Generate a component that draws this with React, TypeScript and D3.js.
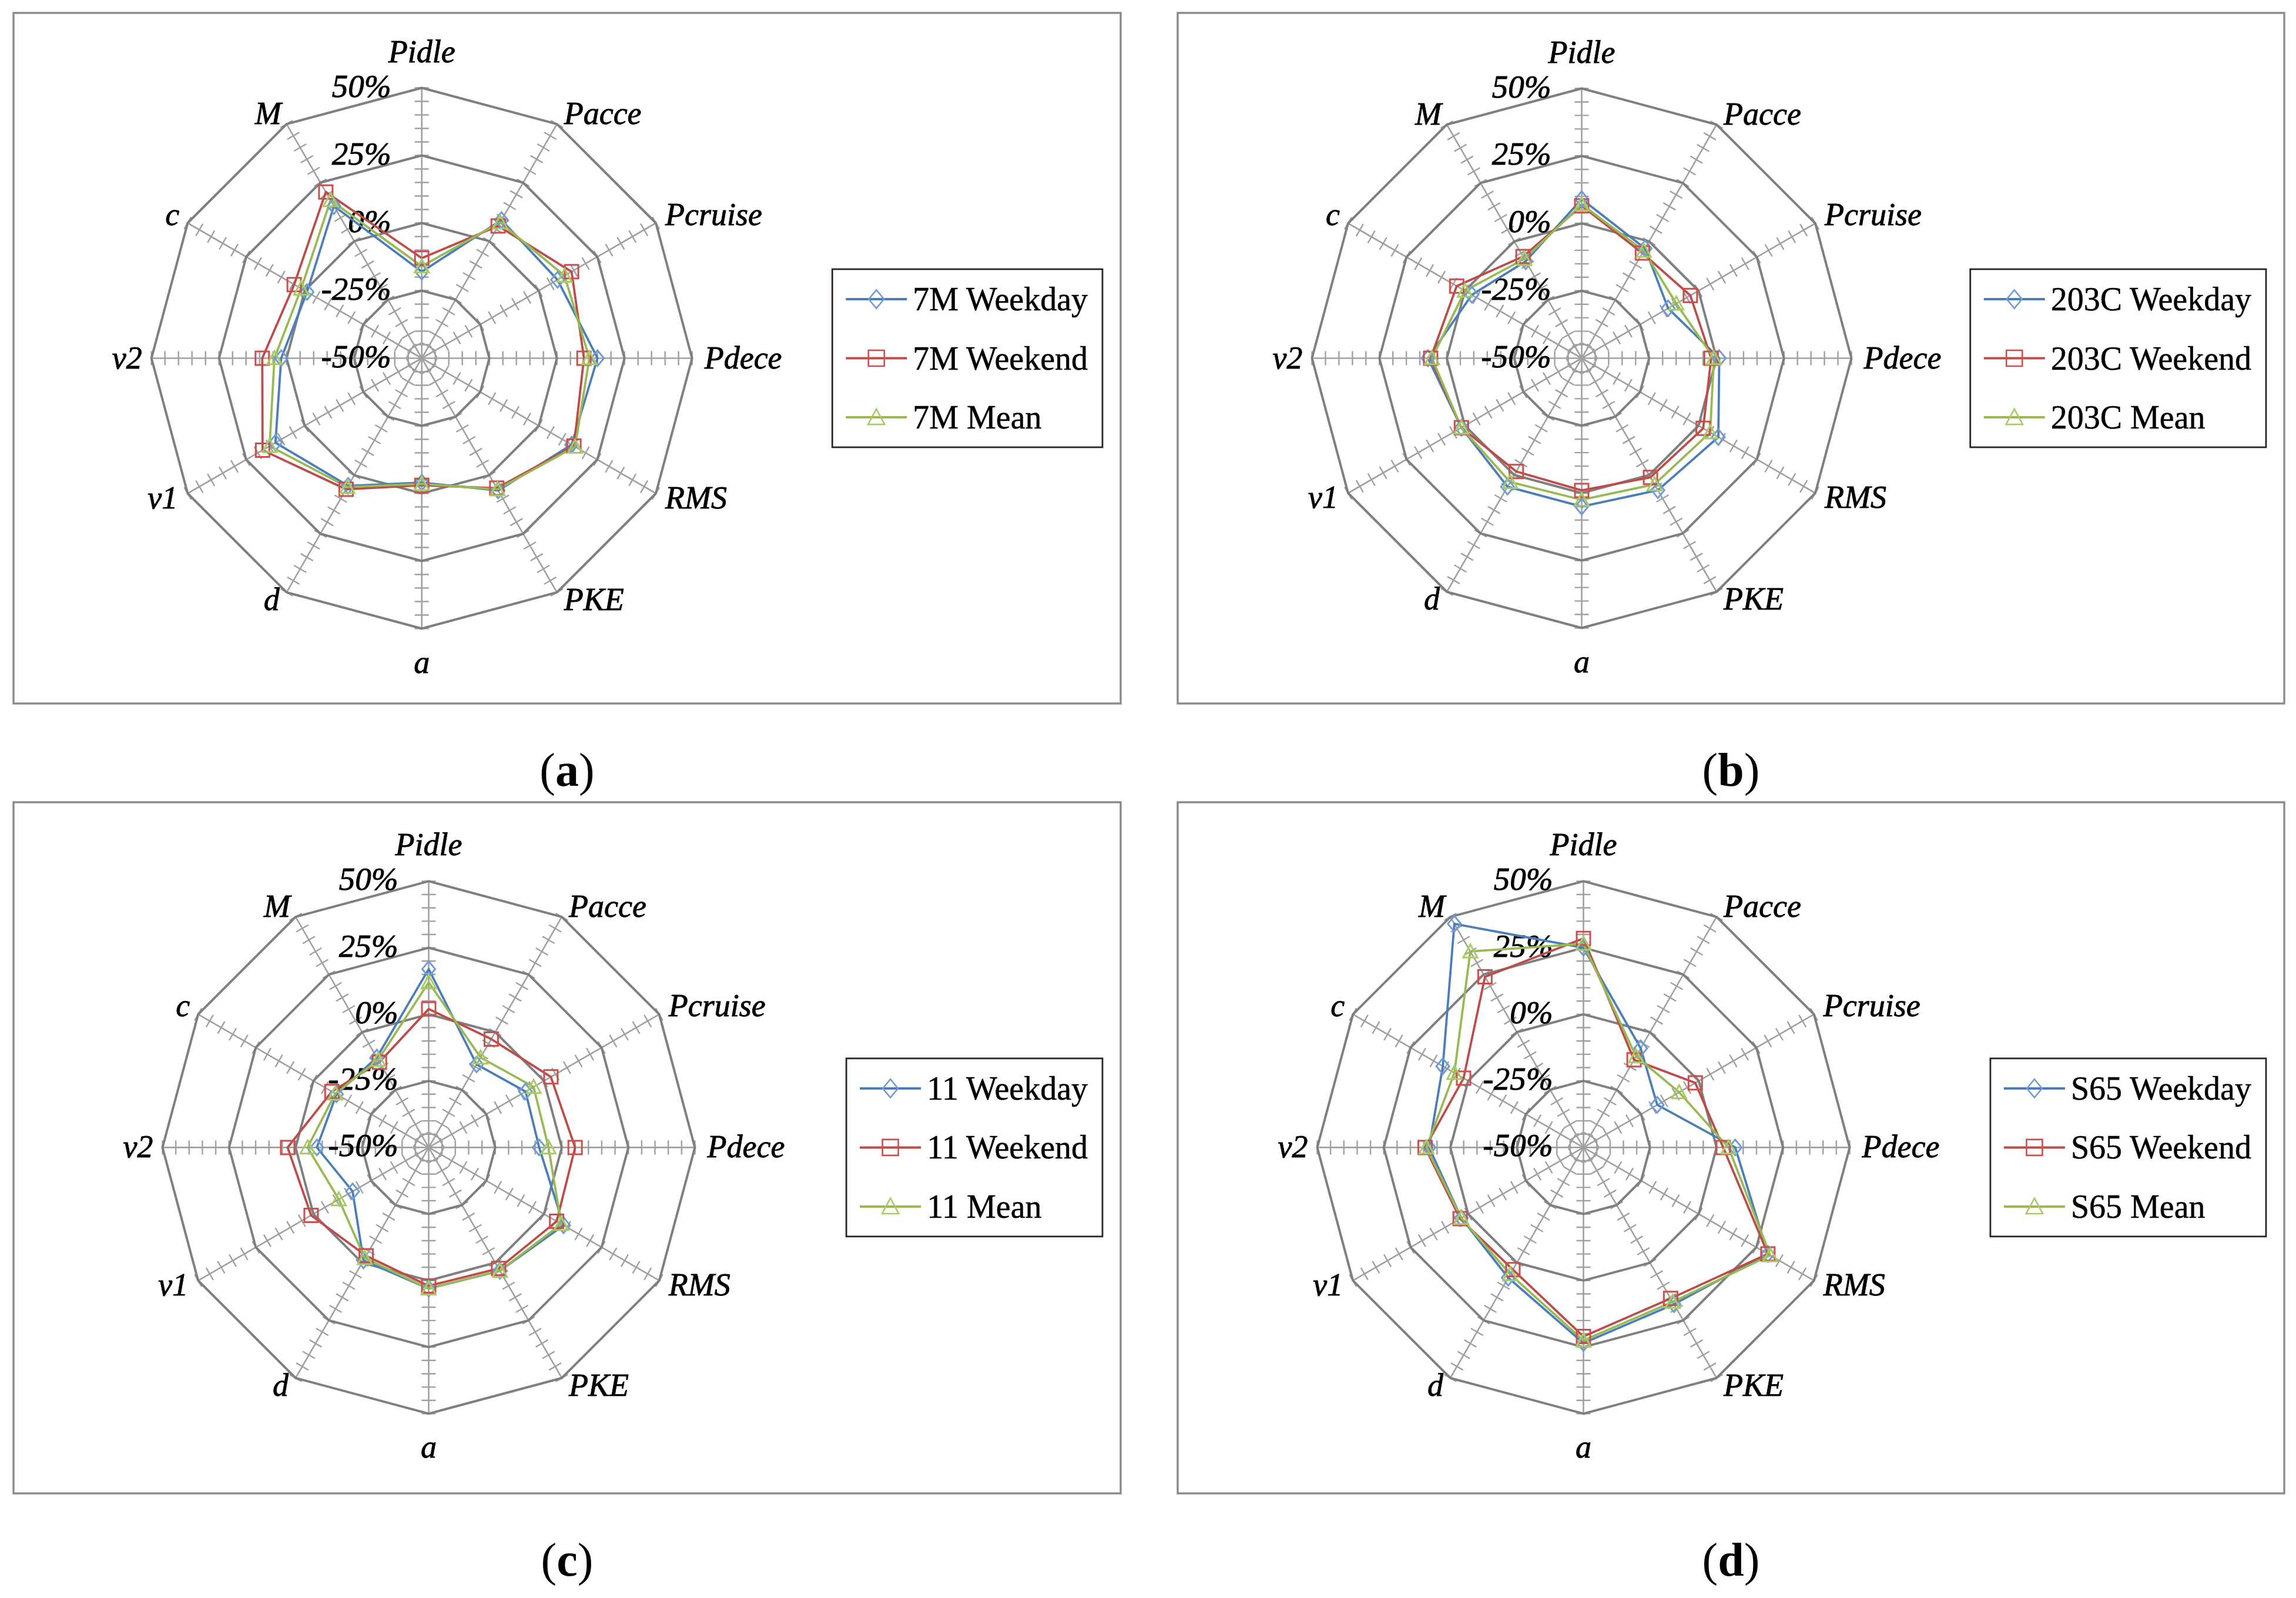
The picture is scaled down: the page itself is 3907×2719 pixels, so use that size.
import React from 'react';
import * as d3 from 'd3';

// ---------- data ----------
const AXES = ["Pidle", "Pacce", "Pcruise", "Pdece", "RMS", "PKE", "a", "d", "v1", "v2", "c", "M"];
const RING_VALUES = [-25, 0, 25, 50];
const TICK_VALUES = [-50, -25, 0, 25, 50];
const TICK_LABELS = ["-50%", "-25%", "0%", "25%", "50%"];
const SERIES_NAMES = ["Weekday", "Weekend", "Mean"];
const ROUTES = ["7M", "203C", "11", "S65"];
const LETTERS = ["a", "b", "c", "d"];

const route7MWeekday = [-18, 9, 8, 15, 14, 6.5, -4, 4.5, 12.5, 2, -1, 15];
const route7MWeekend = [-13, 6.5, 14, 10, 15, 5.5, -3, 6, 18, 9, 4.5, 21];
const route7MMean = [-16, 8, 11, 12, 15.5, 6, -3.5, 5, 15, 4.5, 1.5, 17.5];

const route203CWeekday = [9, -3, -13, 1, 8.5, 6.5, 5, 5, 1.5, 7, -3, -8.5];
const route203CWeekend = [6.5, -5, -3.5, -2, 2, 1, -1, -1.5, 1.5, 6, 3.5, -6.5];
const route203CMean = [7, -4, -9.5, -1, 5, 4, 2.5, 3, 1.5, 5.5, 0, -7.5];

const route11Weekday = [17, -14, -8, -8.5, 8.5, 3.5, 3, -1, -17, -8, -10, -11];
const route11Weekend = [2, -3, 3, 5, 5.5, 2.5, 2, -3, 1, 3, -8, -13];
const route11Mean = [12, -11, -4.5, -5, 7.5, 3.5, 3, -2, -11, -4.5, -9.5, -12];

const routeS65Weekday = [25, -7, -18, 7, 30, 18, 23.5, 6.5, 3, 8, 11, 47];
const routeS65Weekend = [28.5, -12, -1.5, 2.5, 30, 15.5, 21, 3, 3.5, 9.5, 2, 24];
const routeS65Mean = [26.5, -10.5, -8.5, 4.5, 31, 17, 22.5, 5, 3, 9, 6, 35];

const PANEL_SERIES = [
  [route7MWeekday, route7MWeekend, route7MMean],
  [route203CWeekday, route203CWeekend, route203CMean],
  [route11Weekday, route11Weekend, route11Mean],
  [routeS65Weekday, routeS65Weekend, routeS65Mean],
];

// ---------- styling / layout ----------
const W = 3907;
const H = 2719;
const LINE_COLORS = ["#4A7EBB", "#BE4B48", "#98B954"];
const MARKER_COLORS = ["#6F9BD8", "#C9504D", "#A8CB63"];
const MARKERS = ["diamond", "square", "triangle"];

const LAYOUT = [
  { box: { x: 23, y: 22, w: 1884, h: 1175 }, cx: 717.7, cy: 609.5, R: 460 },
  { box: { x: 2004, y: 22, w: 1883, h: 1175 }, cx: 2691.5, cy: 609.5, R: 459 },
  { box: { x: 23, y: 1365, w: 1884, h: 1176 }, cx: 729.5, cy: 1952.4, R: 453 },
  { box: { x: 2004, y: 1365, w: 1883, h: 1176 }, cx: 2694.5, cy: 1952.4, R: 453 },
];

const LABEL_POS = [
  { anchor: 'middle', dx: 0, dy: -44 },
  { anchor: 'start', dx: 12, dy: 0 },
  { anchor: 'start', dx: 16, dy: 3 },
  { anchor: 'start', dx: 21, dy: 17 },
  { anchor: 'start', dx: 16, dy: 25 },
  { anchor: 'start', dx: 12, dy: 30 },
  { anchor: 'middle', dx: 0, dy: 75 },
  { anchor: 'end', dx: -12, dy: 30 },
  { anchor: 'end', dx: -17, dy: 25 },
  { anchor: 'end', dx: -16, dy: 17 },
  { anchor: 'end', dx: -14, dy: 3 },
  { anchor: 'end', dx: -9, dy: 0 },
];

const FONT = '"Liberation Serif", "Times New Roman", serif';

function measure(text: string, font: string): number {
  try {
    const c = document.createElement('canvas');
    const ctx = c.getContext('2d');
    if (ctx) {
      ctx.font = font;
      return ctx.measureText(text).width;
    }
  } catch (e) {}
  return text.length * 28;
}

function markerPath(type: string, s: number): string {
  if (type === 'diamond') {
    const w = s * 0.48, h = s * 0.58;
    return `M0,${-h}L${w},0L0,${h}L${-w},0Z`;
  }
  if (type === 'square') {
    const h = s / 2;
    return `M${-h},${-h}H${h}V${h}H${-h}Z`;
  }
  const h = s / 2;
  return `M0,${-h * 1.05}L${h * 1.05},${h * 0.9}L${-h * 1.05},${h * 0.9}Z`;
}

function Panel({ idx }: { idx: number }) {
  const L = LAYOUT[idx];
  const { cx, cy, R, box } = L;
  const series = PANEL_SERIES[idx];
  const r = d3.scaleLinear().domain([-50, 50]).range([0, R]);
  const n = AXES.length;
  const ang = d3.scalePoint<number>().domain(d3.range(n + 1)).range([0, 2 * Math.PI]);
  const angle = (i: number) => ang(i) as number;
  const pt = (i: number, v: number): [number, number] => {
    const a = angle(i);
    return [cx + r(v) * Math.sin(a), cy - r(v) * Math.cos(a)];
  };

  const ring = d3.lineRadial<number>()
    .angle((_, i) => angle(i))
    .radius(v => r(v))
    .curve(d3.curveLinearClosed);

  const ticks: string[] = [];
  const minor = d3.range(-45, 50.1, 5);
  AXES.forEach((_, i) => {
    const a = angle(i);
    const nx = Math.cos(a), ny = Math.sin(a);
    minor.forEach(v => {
      const [x, y] = pt(i, v);
      ticks.push(`M${x - nx * 12},${y - ny * 12}L${x + nx * 12},${y + ny * 12}`);
    });
  });

  const names = SERIES_NAMES.map(s => `${ROUTES[idx]} ${s}`);
  const maxW = Math.max(...names.map(t => measure(t, `56px "Liberation Serif"`)));
  const lw = 137 + maxW + 24;
  const lh = 303;
  const lx = box.x + box.w - 31 - lw;
  const ly = cy - lh / 2;

  return (
    <g>
      <rect x={box.x} y={box.y} width={box.w} height={box.h} fill="#fff" stroke="#8a8a8a" strokeWidth={3.4} />
      <g transform={`translate(${cx},${cy})`}>
        {AXES.map((_, i) => {
          const a = angle(i);
          return (
            <line key={i} x1={0} y1={0} x2={R * Math.sin(a)} y2={-R * Math.cos(a)}
              stroke="#a0a0a0" strokeWidth={2.6} />
          );
        })}
      </g>
      <path d={ticks.join('')} stroke="#a0a0a0" strokeWidth={2.4} fill="none" />
      <g transform={`translate(${cx},${cy})`}>
        {RING_VALUES.map(v => (
          <path key={v} d={ring(AXES.map(() => v)) as string} fill="none" stroke="#7f7f7f" strokeWidth={4} strokeLinejoin="round" />
        ))}
      </g>
      {TICK_VALUES.map((v, k) => (
        <text key={v} x={cx - 52} y={cy - r(v) + 15} textAnchor="end" fontFamily={FONT}
          fontStyle="italic" fontSize={55} fill="#000" stroke="#000" strokeWidth={0.9}>{TICK_LABELS[k]}</text>
      ))}
      {AXES.map((name, i) => {
        const [x, y] = pt(i, 50);
        const p = LABEL_POS[i];
        return (
          <text key={name} x={x + p.dx} y={y + p.dy} textAnchor={p.anchor as any} fontFamily={FONT}
            fontStyle="italic" fontSize={54} fill="#000" stroke="#000" strokeWidth={0.9}>{name}</text>
        );
      })}
      <g transform={`translate(${cx},${cy})`}>
        {series.map((vals, s) => (
          <path key={s} d={ring(vals) as string} fill="none" stroke={LINE_COLORS[s]} strokeWidth={3.8} strokeLinejoin="round" />
        ))}
      </g>
      {series.map((vals, s) => (
        <g key={'m' + s}>
          {vals.map((v, i) => {
            const [x, y] = pt(i, v);
            return (
              <path key={i} transform={`translate(${x},${y})`} d={markerPath(MARKERS[s], 23)}
                fill="none" stroke={MARKER_COLORS[s]} strokeWidth={3} />
            );
          })}
        </g>
      ))}
      <rect x={lx} y={ly} width={lw} height={lh} fill="#fff" stroke="#262626" strokeWidth={2.8} />
      {names.map((t, s) => {
        const yy = ly + 51 + s * 100.5;
        return (
          <g key={t}>
            <line x1={lx + 23} x2={lx + 127} y1={yy} y2={yy} stroke={LINE_COLORS[s]} strokeWidth={4} />
            <path transform={`translate(${lx + 75},${yy})`} d={markerPath(MARKERS[s], 27)}
              fill="none" stroke={MARKER_COLORS[s]} strokeWidth={2.6} />
            <text x={lx + 137} y={yy + 19} fontFamily={FONT} fontSize={56} fill="#000" stroke="#000" strokeWidth={0.5}>{t}</text>
          </g>
        );
      })}
      <text x={box.x + box.w / 2} y={box.y + box.h + 140} textAnchor="middle" fontFamily={FONT} fontSize={80} fill="#000">
        (<tspan fontWeight="bold">{LETTERS[idx]}</tspan>)
      </text>
    </g>
  );
}

export default function App() {
  return (
    <div style={{ position: 'absolute', left: 0, top: 0, width: W, height: H, overflow: 'hidden', background: '#fff' }}>
      <svg width={W} height={H} viewBox={`0 0 ${W} ${H}`} xmlns="http://www.w3.org/2000/svg">
        <rect x={0} y={0} width={W} height={H} fill="#fff" />
        {LAYOUT.map((_, i) => <Panel key={i} idx={i} />)}
      </svg>
    </div>
  );
}
